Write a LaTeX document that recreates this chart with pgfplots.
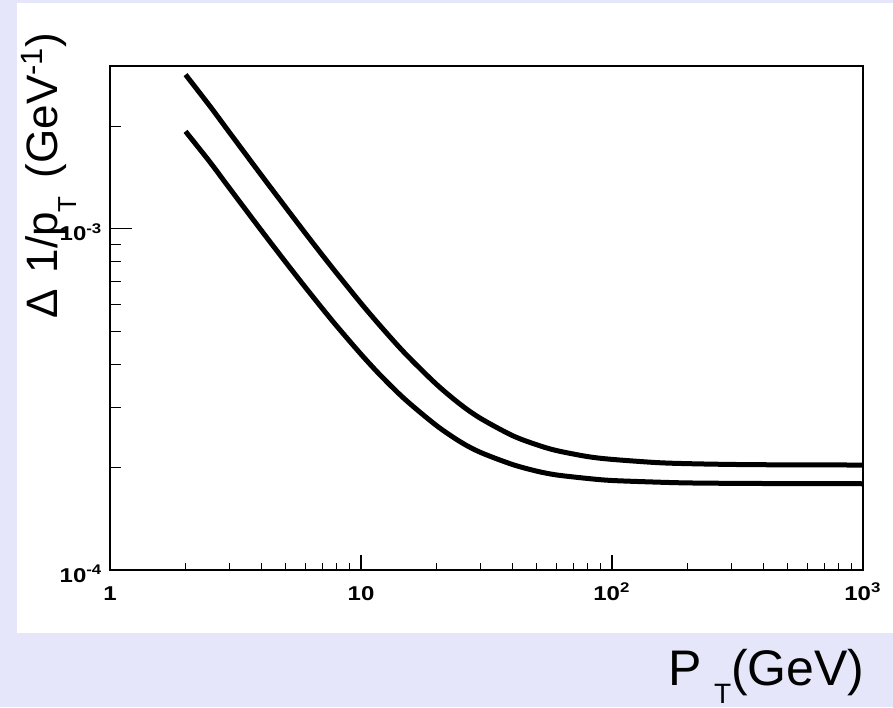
\documentclass[border=0pt]{standalone}
\usepackage{pgfplots}
\pgfplotsset{compat=1.18}
\usepackage{fontspec}
\setmainfont{Liberation Sans}
\definecolor{bgLav}{RGB}{230,230,250}

\begin{document}
\begin{tikzpicture}
% canvas: 1 px of the reference = 0.5pt
\fill[bgLav] (-55pt,-68.5pt) rectangle (391.5pt,285pt);
\fill[white] (-46.5pt,-31.5pt) rectangle (391.5pt,283.5pt);

% main axis: curves + x ticks
\begin{axis}[
    at={(0pt,0pt)}, anchor=south west,
    scale only axis, width=376.5pt, height=252pt,
    xmode=log, ymode=log,
    xmin=1, xmax=1000, ymin=1e-4, ymax=3e-3,
    axis line style={line width=0.75pt},
    tick align=inside,
    xtick={1,10,100,1000},
    xticklabels={1,10,10\textsuperscript{2},10\textsuperscript{3}},
    minor xtick={2,3,4,5,6,7,8,9,20,30,40,50,60,70,80,90,200,300,400,500,600,700,800,900},
    xtick pos=bottom,
    major tick length=7.5pt, minor tick length=3.5pt,
    tick style={black, line width=0.6pt},
    ytick=\empty, minor ytick={},
    xticklabel style={anchor=base, inner sep=0pt, yshift=-15pt, xscale=1.2,
        font=\bfseries\fontsize{10}{10}\selectfont},
]
\addplot[black, line width=2.5pt, smooth] coordinates {
(2,2.83e-3) (2.5,2.289e-3) (3,1.911e-3) (4,1.439e-3) (5,1.158e-3) (6,0.971e-3)
(7,0.839e-3) (8,0.741e-3) (10,0.605e-3) (12,0.517e-3) (15,0.431e-3) (20,0.350e-3)
(25,0.305e-3) (30,0.278e-3) (40,0.248e-3) (50,0.233e-3) (60,0.224e-3) (80,0.215e-3)
(100,0.211e-3) (150,0.2065e-3) (200,0.205e-3) (300,0.2039e-3) (500,0.2033e-3)
(700,0.2032e-3) (1000,0.2031e-3)};
\addplot[black, line width=2.5pt, smooth] coordinates {
(2,1.93e-3) (2.5,1.570e-3) (3,1.312e-3) (4,0.991e-3) (5,0.800e-3) (6,0.674e-3)
(7,0.585e-3) (8,0.519e-3) (10,0.429e-3) (12,0.371e-3) (15,0.316e-3) (20,0.265e-3)
(25,0.237e-3) (30,0.221e-3) (40,0.204e-3) (50,0.195e-3) (60,0.190e-3) (80,0.1855e-3)
(100,0.183e-3) (150,0.181e-3) (200,0.180e-3) (300,0.1795e-3) (500,0.1792e-3)
(700,0.1791e-3) (1000,0.179e-3)};
\end{axis}

% second axis on top: only the y ticks (they are longer than the x ones)
\begin{axis}[
    at={(0pt,0pt)}, anchor=south west,
    scale only axis, width=376.5pt, height=252pt,
    xmode=log, ymode=log,
    xmin=1, xmax=1000, ymin=1e-4, ymax=3e-3,
    axis line style={line width=0.75pt},
    tick align=inside,
    xtick=\empty, minor xtick={},
    ytick={1e-4,1e-3},
    yticklabels={10\textsuperscript{-4},10\textsuperscript{-3}},
    minor ytick={2e-4,3e-4,4e-4,5e-4,6e-4,7e-4,8e-4,9e-4,2e-3},
    ytick pos=left,
    major tick length=11pt, minor tick length=5.5pt,
    tick style={black, line width=0.6pt},
    yticklabel style={anchor=base east, inner sep=0pt, xshift=-3.5pt, yshift=-6pt, xscale=1.2,
        font=\bfseries\fontsize{10}{10}\selectfont},
]
\end{axis}

\node[rotate=90, anchor=base east, inner sep=0pt, font=\fontsize{22}{22}\selectfont]
  at (-26pt,269pt) {Δ\hspace{8pt}1/p\raisebox{-9pt}{\fontsize{13}{13}\selectfont T}\hspace{9pt}(GeV\textsuperscript{-1})};
\node[anchor=base east, inner sep=0pt, font=\fontsize{25}{25}\selectfont]
  at (377.5pt,-57.5pt) {P\hspace{6pt}\raisebox{-9pt}{\fontsize{14}{14}\selectfont T}(GeV)};

\pgfresetboundingbox
\useasboundingbox (-55pt,-68.5pt) rectangle (391.5pt,285pt);
\end{tikzpicture}
\end{document}
